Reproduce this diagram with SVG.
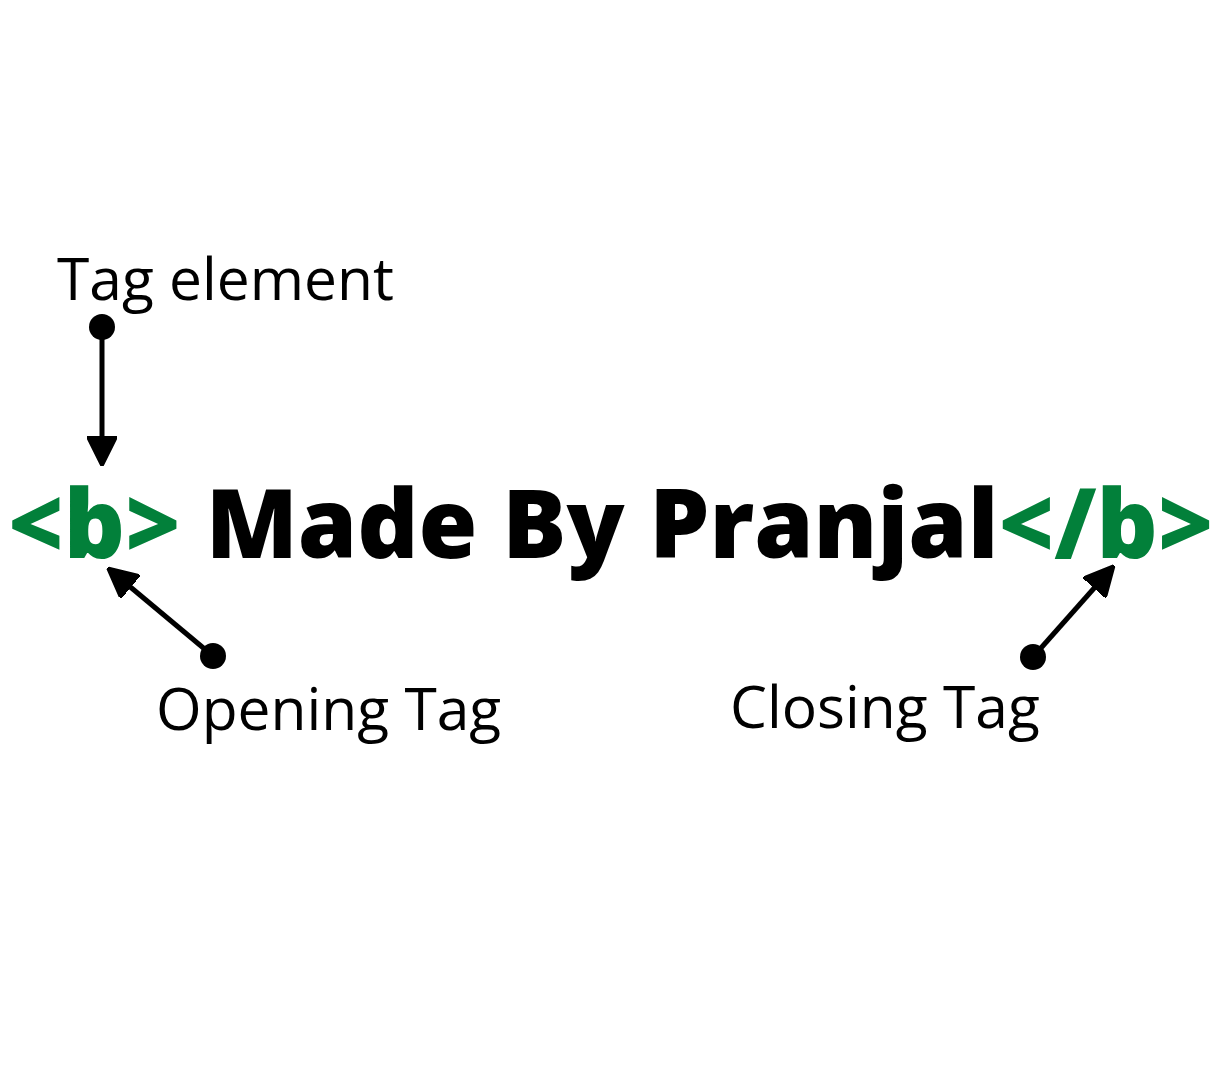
<svg xmlns="http://www.w3.org/2000/svg" width="1224" height="1080" viewBox="0 0 1224 1080">
<style>
.lbl{font-family:"Open Sans","Noto Sans",sans-serif;font-size:58.7px;fill:#000}
.main{font-family:"Open Sans","Noto Sans",sans-serif;font-size:95.3px;font-weight:800;fill:#000}
.tag{fill:#02803a}
.conn{stroke:#000;stroke-width:5;fill:none}
.dot{fill:#000}
</style>
<defs>
<marker id="arr" viewBox="0 0 10 10" refX="9" refY="5" markerWidth="6" markerHeight="6" markerUnits="strokeWidth" orient="auto">
<path d="M0,0 L10,5 L0,10 Z" fill="#000" stroke="#000" stroke-width="1" stroke-linejoin="round"/>
</marker>
</defs>
<rect width="1224" height="1080" fill="#fff"/>
<g id="tag-element"><text class="lbl" x="57" y="300">Tag element</text></g>
<g id="main-text"><text class="main" x="8" y="558"><tspan class="tag">&lt;b&gt;</tspan> Made By Pranjal<tspan class="tag">&lt;/b&gt;</tspan></text></g>
<g id="opening-tag"><text class="lbl" x="156" y="730">Opening Tag</text></g>
<g id="closing-tag"><text class="lbl" x="730" y="728">Closing Tag</text></g>
<g id="connectors">
<circle class="dot" cx="102" cy="327" r="13"/>
<line class="conn" x1="102" y1="327" x2="102" y2="463" marker-end="url(#arr)"/>
<circle class="dot" cx="213" cy="656" r="13"/>
<line class="conn" x1="213" y1="656" x2="110" y2="570" marker-end="url(#arr)"/>
<circle class="dot" cx="1033" cy="657" r="13"/>
<line class="conn" x1="1033" y1="657" x2="1112" y2="568" marker-end="url(#arr)"/>
</g>
</svg>
